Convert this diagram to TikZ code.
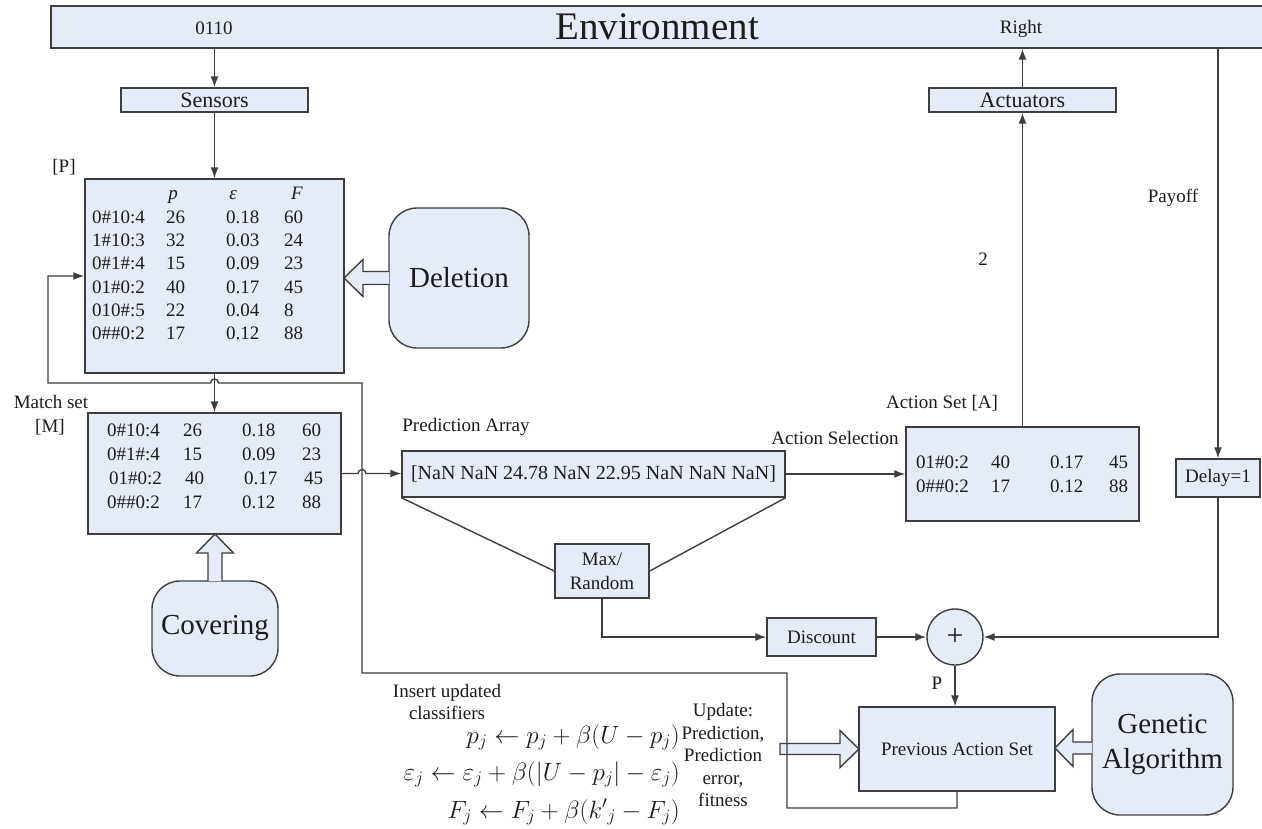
\documentclass[tikz,border=0pt]{standalone}
\usepackage{fix-cm}
\usepackage{fontspec}
\setmainfont{Liberation Serif}
\usetikzlibrary{arrows.meta,calc}

\definecolor{boxfill}{RGB}{230,236,247}
\definecolor{edgegray}{RGB}{62,62,62}
\definecolor{inkgray}{RGB}{28,28,28}

\newcommand{\fsz}[2]{\fontsize{#1}{#2}\selectfont}

\begin{document}
\begin{tikzpicture}[x=1pt,y=-1pt,
  every node/.style={font=\fsz{19}{23}, text=inkgray},
  box/.style={draw=edgegray, line width=1.4pt, fill=boxfill, inner sep=0pt, align=center},
  softbox/.style={box, rounded corners=28pt},
  wire/.style={draw=edgegray, line width=1.4pt},
  arr/.style={wire, -{Latex[length=11pt,width=8pt]}},
  block/.style={draw=edgegray, line width=1.4pt, fill=boxfill, line join=miter},
  row/.style={anchor=base west, inner sep=0pt},
  lbl/.style={inner sep=0pt}
]
\useasboundingbox (0,0) rectangle (1262,828);

% ---------- environment strip ----------
\node[box, minimum width=1230pt, minimum height=42pt] (env) at (666,27) {};
\node[lbl, font=\fsz{39}{44}] (envtitle) at (657,27) {Environment};
\node[lbl] (envin) at (214,28) {0110};
\node[lbl] (envout) at (1021,29) {Right};

% ---------- sensors / actuators ----------
\node[box, minimum width=187pt, minimum height=24pt, font=\fsz{22}{24}] (sensors) at (214.5,100) {Sensors};
\node[box, minimum width=187pt, minimum height=24pt, font=\fsz{22}{24}] (actuators) at (1022.5,100) {Actuators};

% ---------- population [P] ----------
\node[box, minimum width=259pt, minimum height=194pt] (pop) at (214.5,276) {};
\node[lbl] (poplabel) at (64,167) {[P]};
\node[lbl, anchor=base] (hp) at (173,199) {\textit{p}};
\node[lbl, anchor=base] (he) at (233,199) {\textit{ε}};
\node[lbl, anchor=base] (hf) at (297,199) {\textit{F}};
\foreach \r/\yb/\c/\p/\e/\f in {1/223/0\#10:4/26/0.18/60,
                                2/246/1\#10:3/32/0.03/24,
                                3/269/0\#1\#:4/15/0.09/23,
                                4/293/01\#0:2/40/0.17/45,
                                5/316/010\#:5/22/0.04/8,
                                6/339/0\#\#0:2/17/0.12/88}
  \node[row, name=pop-r\r] at (92,\yb)
    {\makebox[74pt][l]{\c}\makebox[60pt][l]{\p}\makebox[58pt][l]{\e}\f};

\node[softbox, minimum width=140pt, minimum height=140pt, font=\fsz{29}{32}] (deletion) at (459,278) {Deletion};
\path[block] (389,271.5) -- (363,271.5) -- (363,259.5) -- (344,278) -- (363,296.5) -- (363,284.5) -- (389,284.5);

% ---------- match set [M] ----------
\node[box, minimum width=253pt, minimum height=121pt] (match) at (214.5,473.5) {};
\node[lbl] (matchlabel) at (51,402) {Match set};
\node[lbl] (matchtag) at (50,427) {[M]};
\foreach \r/\yb/\dx/\c/\p/\e/\f in {1/436/0/0\#10:4/26/0.18/60,
                                    2/460/0/0\#1\#:4/15/0.09/23,
                                    3/484/2/01\#0:2/40/0.17/45,
                                    4/508/0/0\#\#0:2/17/0.12/88}
  \node[row, name=match-r\r] at (107+\dx,\yb)
    {\makebox[76pt][l]{\c}\makebox[59pt][l]{\p}\makebox[60pt][l]{\e}\f};

\node[softbox, minimum width=126pt, minimum height=95pt, font=\fsz{29}{32}] (covering) at (215,628.5) {Covering};
\path[block] (208,581) -- (208,553) -- (196.5,553) -- (215,534) -- (233.5,553) -- (222,553) -- (222,581);

% ---------- prediction array and selection ----------
\node[box, minimum width=383pt, minimum height=46pt, font=\fsz{20}{24}] (predarr) at (593.5,474) {[NaN NaN 24.78 NaN 22.95 NaN NaN NaN]};
\node[lbl] (predlabel) at (466,427) {Prediction Array};
\node[box, minimum width=94pt, minimum height=54pt, font=\fsz{19}{24}] (maxrand) at (602,571) {Max/\\Random};

% ---------- action set [A] ----------
\node[box, minimum width=233pt, minimum height=94pt] (actset) at (1022.5,474) {};
\node[lbl] (actsetlabel) at (942,403) {Action Set [A]};
\node[lbl] (actsel) at (835,438) {Action Selection};
\foreach \r/\yb/\c/\p/\e/\f in {1/468/01\#0:2/40/0.17/45,
                                2/492/0\#\#0:2/17/0.12/88}
  \node[row, name=act-r\r] at (916,\yb)
    {\makebox[75pt][l]{\c}\makebox[59pt][l]{\p}\makebox[59pt][l]{\e}\f};
\node[lbl] (actnum) at (983,259) {2};

% ---------- payoff path ----------
\node[lbl] (payoff) at (1173,198) {Payoff};
\node[box, minimum width=84pt, minimum height=38pt] (delay) at (1218,478) {Delay=1};
\node[box, minimum width=109pt, minimum height=38pt] (discount) at (821.5,637) {Discount};
\node[box, circle, minimum size=56pt, font=\fsz{30}{32}] (plus) at (955,637) {+};
\node[lbl] (plabel) at (937,683) {P};

% ---------- update stage ----------
\node[box, minimum width=196pt, minimum height=84pt] (prevset) at (957,749) {Previous Action Set};
\node[softbox, minimum width=141pt, minimum height=141pt, font=\fsz{29}{35}] (genetic) at (1162.5,744.5) {Genetic\\Algorithm};
\path[block] (1092,742) -- (1073,742) -- (1073,729.5) -- (1055,748) -- (1073,766.5) -- (1073,754) -- (1092,754);
\path[block] (780,743.5) -- (840,743.5) -- (840,730.5) -- (859,749) -- (840,767.5) -- (840,754.5) -- (780,754.5) -- cycle;

\node[lbl, align=center, font=\fsz{19}{22}] (insertlbl) at (447,702) {Insert updated\\classifiers};
\node[lbl, align=center, font=\fsz{19}{22.5}] (updatelbl) at (723,755) {Update:\\Prediction,\\Prediction\\error,\\fitness};
\node[lbl, anchor=base east, font=\fsz{25}{28}] (eqp) at (680,743) {$p_j \leftarrow p_j + \beta(U - p_j)$};
\node[lbl, anchor=base east, font=\fsz{25}{28}] (eqe) at (680,780) {$\varepsilon_j \leftarrow \varepsilon_j + \beta\bigl(\bigl|U - p_j\bigr| - \varepsilon_j\bigr)$};
\node[lbl, anchor=base east, font=\fsz{25}{28}] (eqf) at (680,818) {$F_j \leftarrow F_j + \beta\bigl({k'}_j - F_j\bigr)$};

% ---------- connectors ----------
\coordinate (loopbot) at (787,808);
\coordinate (loopmid) at (362,673);
\coordinate (looptop) at (48,383);

\draw[arr] (env.south -| sensors) -- (sensors.north);
\draw[arr] (sensors.south) -- (pop.north);
\draw[arr] (pop.south) -- (match.north);
\draw[arr] (actset.north) -- (actuators.south);
\draw[arr] (actuators.north) -- (env.south -| actuators);
\draw[arr] (env.south -| delay) -- (delay.north);
\draw[arr] (delay.south) |- (plus.east);
\draw[arr] (predarr.east) -- (actset.west);
\draw[wire] (predarr.south west) -- (maxrand.west);
\draw[wire] (predarr.south east) -- (maxrand.east);
\draw[arr] (maxrand.south) |- (discount.west);
\draw[arr] (discount.east) -- (plus.west);
\draw[arr] (plus.south) -- (plus.south |- prevset.north);

% updated classifiers fed back into the population
\draw[arr] (prevset.south) |- (loopbot) |- (loopmid) -- (loopmid |- looptop)
  -- ($(pop.south |- looptop)+(4,0)$) arc(0:-180:4) -- (looptop) |- (pop.west);

% match set into the prediction array, hopping over the feedback line
\draw[arr] (match.east) -- ($(loopmid |- match.east)+(-4,0)$) arc(180:360:4)
  -- (predarr.west |- match.east);
\end{tikzpicture}
\end{document}
